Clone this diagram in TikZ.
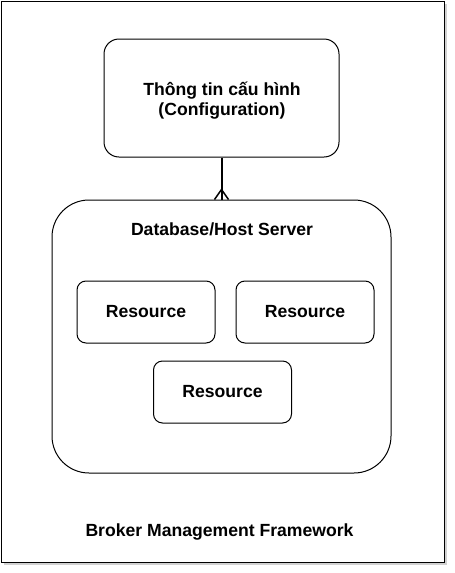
\documentclass[tikz,border=0pt]{standalone}
\usepackage{fontspec}
\setmainfont{Liberation Sans}
\usetikzlibrary{shadows}

\begin{document}
\begin{tikzpicture}[x=1pt, y=-1pt, font=\fontsize{17.6}{20}\selectfont\bfseries,
  frame/.style={draw=black, line width=1pt, fill=white, minimum width=443pt, minimum height=561pt,
    drop shadow={shadow xshift=3pt, shadow yshift=-3pt, fill=black!30, opacity=0.6}},
  box/.style={draw=black, line width=1pt, fill=white, rounded corners=#1, inner sep=0pt, align=center},
  res/.style={box=9pt, minimum width=138pt, minimum height=62pt},
  lab/.style={inner sep=0pt, anchor=base, align=center},
  conn/.style={draw=black, line width=2pt}]

\useasboundingbox (0,0) rectangle (455,573);

% ---- outer frame and title
\node[frame] (frame) at (222.5,281.5) {};
\node[lab] (title) at (219.5,536) {Broker Management Framework};

% ---- configuration
\node[box=15pt, minimum width=235pt, minimum height=118pt] (cfg) at (221.5,98) {};
\node[lab] (cfglab) at (222,115.5) {Thông tin cấu hình\\(Configuration)};

% ---- database / host server with its resources
\node[box=37pt, minimum width=339pt, minimum height=273pt] (db) at (221.5,336.5) {};
\node[lab] (dblab) at (222,235.5) {Database/Host Server};
\node[res] (res1) at (146,312) {Resource};
\node[res] (res2) at (305,312) {Resource};
\node[res] (res3) at (222.5,392) {Resource};

% ---- one-to-many link
\draw[conn] (cfg.south) -- (db.north);
\draw[conn, line width=1.5pt] ([xshift=-7pt]db.north) -- ([yshift=10pt]db.north) -- ([xshift=7pt]db.north);
\end{tikzpicture}
\end{document}
